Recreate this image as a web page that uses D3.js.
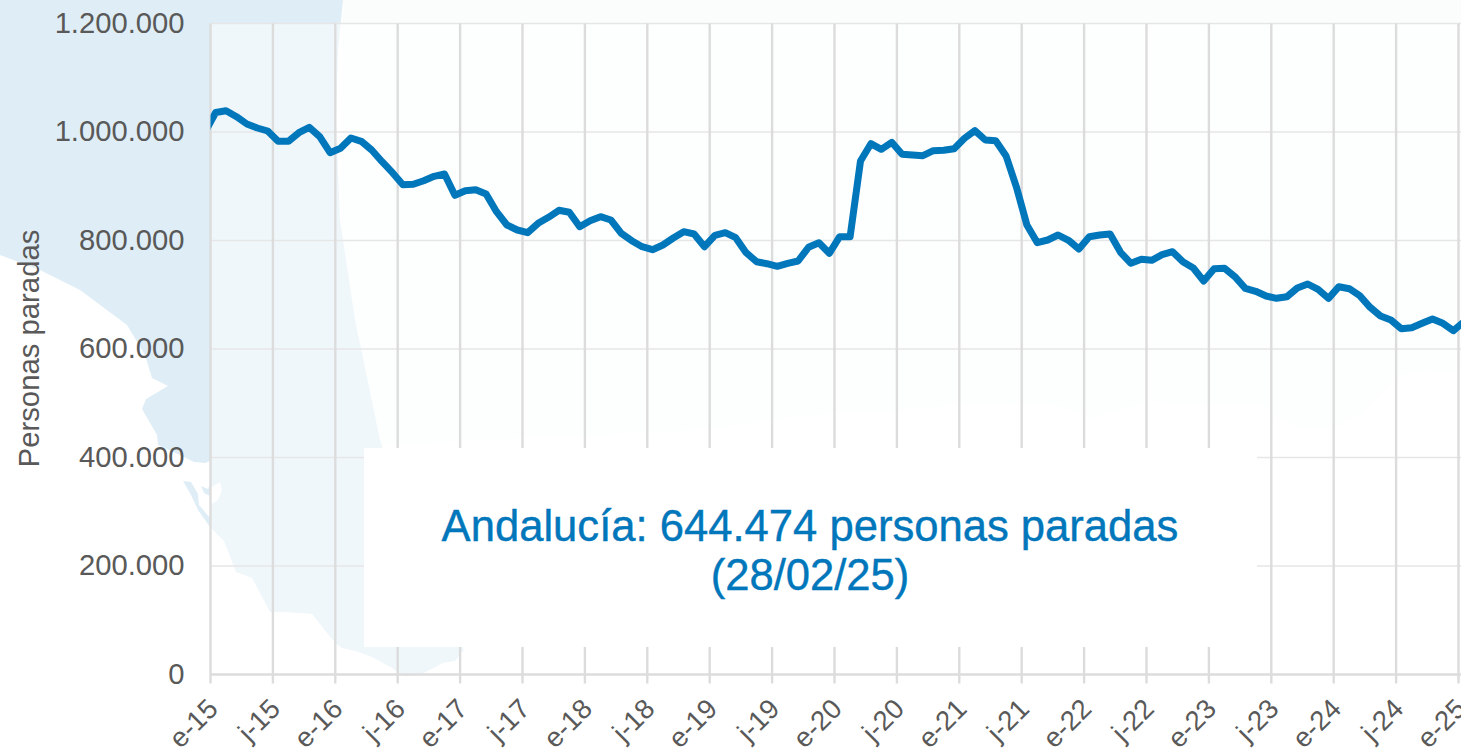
<!DOCTYPE html>
<html lang="es">
<head>
<meta charset="utf-8">
<title>Personas paradas en Andalucía</title>
<script src="https://cdn.jsdelivr.net/npm/d3@7"></script>
<style>
  html, body { margin: 0; padding: 0; background: #fff; overflow: hidden; }
  svg { display: block; font-family: "Liberation Sans", Arial, sans-serif; }
</style>
</head>
<body>
<svg id="chart" width="1461" height="753">
  <!-- mapa de fondo, solo decorativo -->
  <g id="mapa">
    <path fill="#fbfdfd" d="M343,0 L1461,0 L1461,372 L1425,370 L1400,375 L1388,388 L1360,415 L1340,426 L1300,428 L1283,420 L1260,405 L1200,405 L1150,401 L1090,419 L1060,406 L960,405 L900,410 L800,416 L700,430 L380,445 L340,300 Z"/>
    <path fill="#dfeef6" d="M0,0 L343,0 L338,50 L336,120 L340,220 L355,320 L380,440 L400,500 L440,600 L464,650 L455,661 L443,663 L420,675 L403,676 L392,668 L372,657 L355,651 L342,648 L335,643 L312,614 L285,612 L270,612 L252,578 L236,572 L224,541 L210,527 L210,461 L205,463 L194,462 L180,455 L158,445 L157,435 L142,409 L146,399 L168,386 L152,378 L145,355 L127,325 L80,290 L40,270 L0,255 Z"/>
    <path fill="#dfeef6" d="M183,481 L191,482 L198,494 L199,505 L210,518 L215,530 L210,527 L198,510 L191,495 Z"/>
    <path fill="#dfeef6" d="M201,486 L208,489 L210,484 L210,496 L204,493 Z"/>
    <path fill="#ffffff" d="M210,464 L210,484 L212,487 L220,482 L222,490 L218,500 L210,505 L210.5,464 Z"/>
  </g>
</svg>
<script>
// ticks del eje x, uno cada seis meses desde enero de 2015
const tickLabels = [
  'e-15', 'j-15', 'e-16', 'j-16', 'e-17', 'j-17', 'e-18', 'j-18', 'e-19', 'j-19', 'e-20',
  'j-20', 'e-21', 'j-21', 'e-22', 'j-22', 'e-23', 'j-23', 'e-24', 'j-24', 'e-25'
]

const yTicks = [0, 200000, 400000, 600000, 800000, 1000000, 1200000]

// personas paradas por mes, de diciembre de 2014 a febrero de 2025
const paradas = [
  1000900,
  1035950, 1039080, 1028200, 1014750, 1007380, 1001850, 982860, 982860, 998710, 1008670, 991340, 961850,
  969960, 988940, 982860, 966820, 945250, 924980, 902860, 903600, 910230, 918340, 922580, 883320,
  891800, 893640, 885720, 853090, 828570, 819360, 814380, 831710, 842770, 855670, 851980, 825440,
  836500, 843870, 837800, 813270, 799630, 788570, 783040, 791710, 804610, 816220, 811980, 788570,
  809590, 814380, 805160, 777510, 760920, 757230, 752450, 757980, 762220, 787470, 795950, 776410,
  807000, 807000, 946540, 978430, 968110, 981030, 958890, 957600, 956310, 965530, 966270, 969220,
  988400, 1002400, 985260, 983970, 955760, 898060, 828570, 795950, 800930, 810140, 800370, 784330,
  807000, 810140, 811980, 778250, 757980, 765350, 763510, 773830, 779360, 760920, 749310, 725350,
  748020, 748760, 733270, 711890, 706360, 697700, 693460, 696410, 712440, 719810, 710050, 693460,
  714840, 711150, 698250, 676870, 660830, 653460, 637420, 639270, 647380, 655300, 647380, 633730,
  649770, 644474
]

const lastText = ['Andalucía: 644.474 personas paradas', '(28/02/25)']

const blue = '#0076bb'
const grey = '#595959'

const plotLeft = 210.5
const plotRight = 1458.5
const plotTop = 23.5
const plotBottom = 674.5
const pageWidth = 1461

const svg = d3.select('#chart')

const es = d3.formatLocale({ decimal: ',', thousands: '.', grouping: [3], currency: ['', ' €'] })

// los ticks caen en el borde de cada mes, los puntos en el centro
const x = d3.scaleLinear().domain([0, 120]).range([plotLeft, plotRight])
const y = d3.scaleLinear().domain([0, 1200000]).range([plotBottom, plotTop])

// velo blanco sobre el mapa dentro del area del grafico
svg.append('rect')
  .attr('x', plotLeft)
  .attr('y', plotTop)
  .attr('width', pageWidth - plotLeft)
  .attr('height', plotBottom - plotTop)
  .attr('fill', '#fff')
  .attr('opacity', 0.5)

const yAxis = svg.append('g')
  .attr('transform', `translate(${plotLeft},-0.5)`)
  .call(d3.axisLeft(y).tickValues(yTicks).tickSize(-(pageWidth - plotLeft)).tickPadding(26).tickFormat(es.format(',')))
yAxis.select('.domain').remove()
yAxis.selectAll('line')
  .attr('stroke', (d) => d === 0 ? '#dcdcdc' : '#e6e6e6')
  .attr('stroke-width', (d) => d === 0 ? 2.4 : 1.6)
yAxis.selectAll('text')
  .attr('fill', grey)
  .attr('font-size', 29.2)

const xAxis = svg.append('g')
  .attr('transform', `translate(-0.5,${plotBottom})`)
  .call(d3.axisBottom(x).tickValues(d3.range(0, 121, 6)).tickFormat((d) => tickLabels[d / 6]))
xAxis.select('.domain').remove()
xAxis.selectAll('line')
  .attr('y1', plotTop - plotBottom)
  .attr('y2', 9)
  .attr('stroke', '#dcdcdc')
  .attr('stroke-width', 2.4)
xAxis.selectAll('text')
  .attr('fill', grey)
  .attr('font-size', 27.5)
  .attr('text-anchor', 'end')
  .attr('dy', 0)
  .attr('y', 0)
  .attr('transform', 'translate(9,36) rotate(-45)')

svg.append('text')
  .attr('transform', `translate(39,${(229 + 468) / 2}) rotate(-90)`)
  .attr('text-anchor', 'middle')
  .attr('fill', grey)
  .attr('font-size', 29.3)
  .text('Personas paradas')

svg.append('clipPath')
  .attr('id', 'plot-clip')
  .append('rect')
  .attr('x', plotLeft)
  .attr('y', 0)
  .attr('width', pageWidth - plotLeft)
  .attr('height', 753)

const line = d3.line()
  .x((d, i) => x(i - 0.5))
  .y((d) => y(d))

svg.append('path')
  .datum(paradas)
  .attr('clip-path', 'url(#plot-clip)')
  .attr('fill', 'none')
  .attr('stroke', blue)
  .attr('stroke-width', 7)
  .attr('stroke-linejoin', 'round')
  .attr('d', line)

// recuadro con el ultimo dato
svg.append('rect')
  .attr('x', 364)
  .attr('y', 448)
  .attr('width', 893)
  .attr('height', 199)
  .attr('fill', '#fff')

svg.selectAll('.last')
  .data(lastText)
  .enter()
  .append('text')
  .attr('class', 'last')
  .attr('x', 810)
  .attr('y', (d, i) => 541 + i * 48.5)
  .attr('text-anchor', 'middle')
  .attr('fill', blue)
  .attr('stroke', blue)
  .attr('stroke-width', 0.4)
  .attr('font-size', 43.6)
  .text((d) => d)
</script>
</body>
</html>
